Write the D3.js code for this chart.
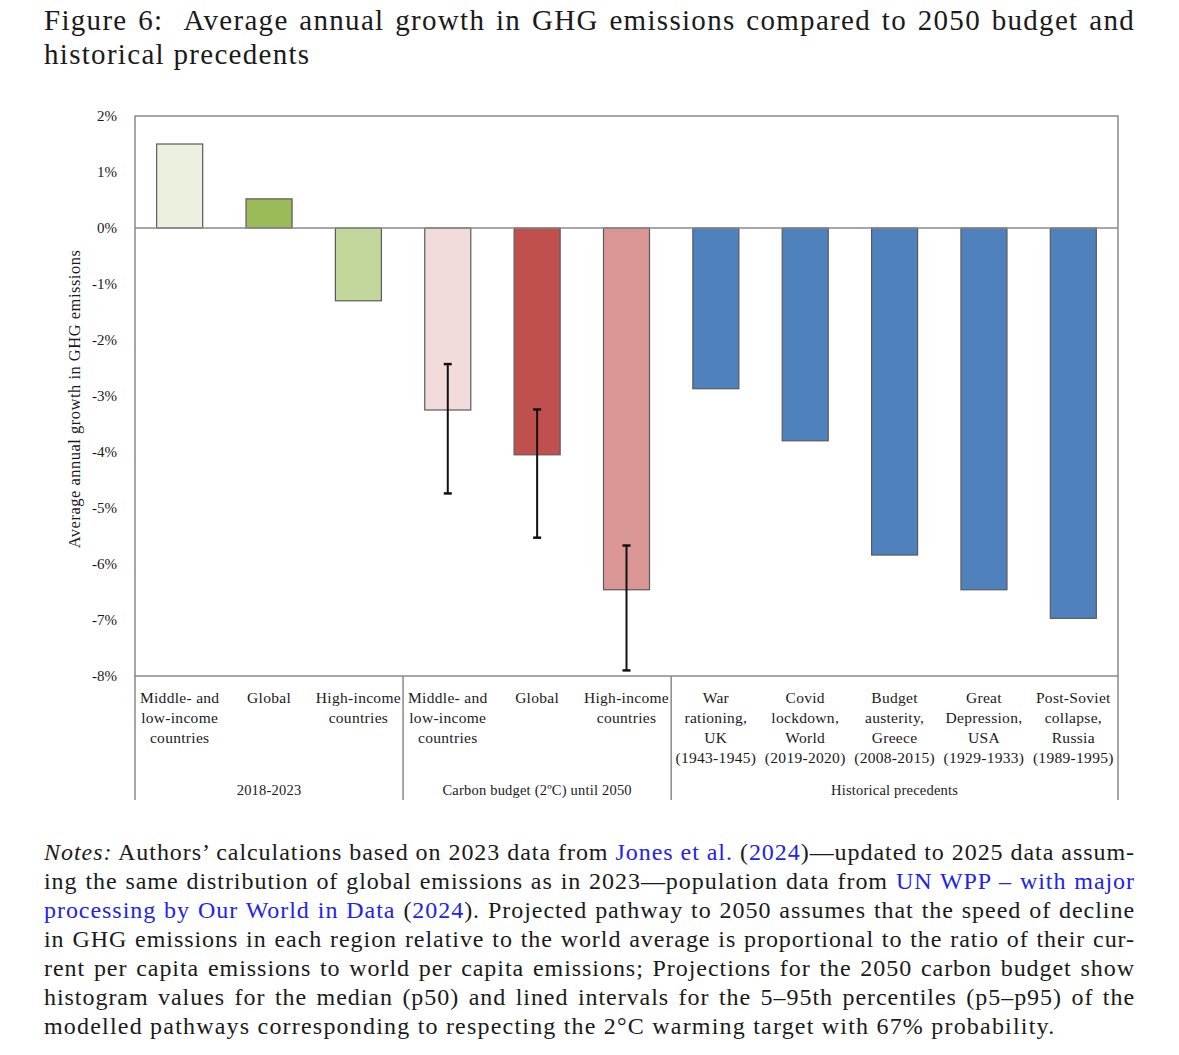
<!DOCTYPE html>
<html>
<head>
<meta charset="utf-8">
<script src="https://cdn.jsdelivr.net/npm/d3@7"></script>
<style>
  body { margin: 0; background: #fff; font-family: "Palatino Linotype", "Book Antiqua", Palatino, "Liberation Serif", serif; color: #1a1a1a; }
  #page { position: relative; width: 1179px; height: 1055px; overflow: hidden; }
  .line { position: absolute; left: 44px; width: 1091px; white-space: nowrap; text-align: justify; text-align-last: justify; }
  .line.last { text-align-last: left; }
  .title { font-size: 29px; line-height: 34px; height: 34px; letter-spacing: 1.3px; }
  .note { font-size: 24px; line-height: 29px; height: 29px; letter-spacing: 0.95px; }
  .note.last { letter-spacing: 1.2px; }
  .lnk { color: #2222ee; }
  svg { position: absolute; left: 0; top: 0; }
  svg text { font-family: "Palatino Linotype", "Book Antiqua", Palatino, "Liberation Serif", serif; fill: #1a1a1a; }
</style>
</head>
<body>
<div id="page">
  <div id="chart"></div>
</div>
<script>
// chart data
var categories = ["mli_hist", "glob_hist", "hi_hist", "mli_budget", "glob_budget", "hi_budget",
                  "war_uk", "covid", "greece", "usa", "russia"];
var labels = [
    ["Middle- and", "low-income", "countries"],
    ["Global"],
    ["High-income", "countries"],
    ["Middle- and", "low-income", "countries"],
    ["Global"],
    ["High-income", "countries"],
    ["War", "rationing,", "UK", "(1943-1945)"],
    ["Covid", "lockdown,", "World", "(2019-2020)"],
    ["Budget", "austerity,", "Greece", "(2008-2015)"],
    ["Great", "Depression,", "USA", "(1929-1933)"],
    ["Post-Soviet", "collapse,", "Russia", "(1989-1995)"]
];
var growth = [1.5, 0.52, -1.3, -3.25, -4.05, -6.46, -2.87, -3.8, -5.84, -6.46, -6.97];
var p5 = [null, null, null, -2.43, -3.24, -5.67, null, null, null, null, null];
var p95 = [null, null, null, -4.74, -5.53, -7.9, null, null, null, null, null];
var barColors = ["#ebf1de", "#9bbb59", "#c3d69b", "#f2dcdb", "#c0504d", "#d99694",
                 "#4f81bd", "#4f81bd", "#4f81bd", "#4f81bd", "#4f81bd"];
var groups = ["2018-2023", "Carbon budget (2ºC) until 2050", "Historical precedents"];
var groupSizes = [3, 3, 5];
var yTicks = [2, 1, 0, -1, -2, -3, -4, -5, -6, -7, -8];

var titleLines = [
    "Figure 6:&nbsp; Average annual growth in GHG emissions compared to 2050 budget and",
    "historical precedents"
];
var noteLines = [
    "<i>Notes:</i> Authors’ calculations based on 2023 data from <span class='lnk'>Jones et al.</span> (<span class='lnk'>2024</span>)—updated to 2025 data assum-",
    "ing the same distribution of global emissions as in 2023—population data from <span class='lnk'>UN WPP – with major</span>",
    "<span class='lnk'>processing by Our World in Data</span> (<span class='lnk'>2024</span>). Projected pathway to 2050 assumes that the speed of decline",
    "in GHG emissions in each region relative to the world average is proportional to the ratio of their cur-",
    "rent per capita emissions to world per capita emissions; Projections for the 2050 carbon budget show",
    "histogram values for the median (p50) and lined intervals for the 5–95th percentiles (p5–p95) of the",
    "modelled pathways corresponding to respecting the 2°C warming target with 67% probability."
];

var page = d3.select("#page");

page.selectAll("div.title")
    .data(titleLines)
    .enter()
    .append("div")
    .attr("class", function (d, i) { return i == titleLines.length - 1 ? "line title last" : "line title"; })
    .style("top", function (d, i) { return (3 + i * 34) + "px"; })
    .html(function (d) { return d; });

page.selectAll("div.note")
    .data(noteLines)
    .enter()
    .append("div")
    .attr("class", function (d, i) { return i == noteLines.length - 1 ? "line note last" : "line note"; })
    .style("top", function (d, i) { return (838 + i * 29) + "px"; })
    .html(function (d) { return d; });

var width = 1179;
var height = 1055;
var plotLeft = 135, plotRight = 1118, plotTop = 116, plotBottom = 676, axisBottom = 800;

var svg = d3.select("#chart")
    .append("svg")
    .attr("width", width)
    .attr("height", height);

var x = d3.scaleBand()
    .domain(categories)
    .range([plotLeft, plotRight])
    .paddingInner(0.485)
    .paddingOuter(0.2425);

var y = d3.scaleLinear()
    .domain([-8, 2])
    .range([plotBottom, plotTop]);

// y labels, no tick marks
var yAxis = svg.append("g")
    .attr("transform", "translate(" + plotLeft + ",0)")
    .call(d3.axisLeft(y).tickValues(yTicks).tickSize(0).tickPadding(18)
        .tickFormat(function (d) { return d + "%"; }));
yAxis.select(".domain").remove();
yAxis.selectAll("text")
    .style("font-size", "15px")
    .style("font-family", "'Liberation Serif', serif")
    .attr("fill", "#1a1a1a");

svg.append("text")
    .attr("transform", "translate(80," + ((plotTop + plotBottom) / 2 + 3) + ") rotate(-90)")
    .attr("text-anchor", "middle")
    .style("font-size", "16.5px")
    .style("letter-spacing", "0.5px")
    .text("Average annual growth in GHG emissions");

// bars
svg.selectAll("rect.bar")
    .data(growth)
    .enter()
    .append("rect")
    .attr("class", "bar")
    .attr("x", function (d, i) { return x(categories[i]); })
    .attr("width", x.bandwidth())
    .attr("y", function (d) { return y(Math.max(0, d)); })
    .attr("height", function (d) { return Math.abs(y(d) - y(0)); })
    .attr("fill", function (d, i) { return barColors[i]; })
    .attr("stroke", "#5a5a5a")
    .attr("stroke-width", 1.2);

// plot frame and zero line
svg.append("rect")
    .attr("x", plotLeft)
    .attr("y", plotTop)
    .attr("width", plotRight - plotLeft)
    .attr("height", plotBottom - plotTop)
    .attr("fill", "none")
    .attr("stroke", "#8a8a8a")
    .attr("stroke-width", 1.5);

svg.append("line")
    .attr("x1", plotLeft).attr("x2", plotRight)
    .attr("y1", y(0)).attr("y2", y(0))
    .attr("stroke", "#8a8a8a")
    .attr("stroke-width", 1.5);

// error bars p5-p95
var err = [];
categories.forEach(function (c, i) {
    if (p5[i] != null) err.push({ cat: c, lo: p95[i], hi: p5[i] });
});

var eb = svg.selectAll("g.err")
    .data(err)
    .enter()
    .append("g")
    .attr("class", "err");

eb.append("line")
    .attr("x1", function (d) { return x(d.cat) + x.bandwidth() / 2; })
    .attr("x2", function (d) { return x(d.cat) + x.bandwidth() / 2; })
    .attr("y1", function (d) { return y(d.hi); })
    .attr("y2", function (d) { return y(d.lo); })
    .attr("stroke", "#111")
    .attr("stroke-width", 2);

["hi", "lo"].forEach(function (k) {
    eb.append("line")
        .attr("x1", function (d) { return x(d.cat) + x.bandwidth() / 2 - 4; })
        .attr("x2", function (d) { return x(d.cat) + x.bandwidth() / 2 + 4; })
        .attr("y1", function (d) { return y(d[k]); })
        .attr("y2", function (d) { return y(d[k]); })
        .attr("stroke", "#111")
        .attr("stroke-width", 2.5);
});

// category labels
var catLabels = svg.selectAll("text.cat")
    .data(labels)
    .enter()
    .append("text")
    .attr("class", "cat")
    .attr("text-anchor", "middle")
    .style("font-size", "15.5px")
    .style("letter-spacing", "0.3px")
    .attr("x", function (d, i) { return x(categories[i]) + x.bandwidth() / 2; })
    .attr("y", plotBottom + 27);

catLabels.selectAll("tspan")
    .data(function (d) { return d; })
    .enter()
    .append("tspan")
    .attr("x", function () { return d3.select(this.parentNode).attr("x"); })
    .attr("dy", function (d, i) { return i == 0 ? 0 : 20; })
    .text(function (d) { return d; });

// group separators and labels
var step = x.step();
var bounds = [plotLeft];
var acc = 0;
groupSizes.forEach(function (n) {
    acc += n;
    bounds.push(acc == categories.length ? plotRight : plotLeft + x.paddingOuter() * step - x.paddingInner() * step / 2 + acc * step);
});

svg.selectAll("line.sep")
    .data(bounds)
    .enter()
    .append("line")
    .attr("class", "sep")
    .attr("x1", function (d) { return d; })
    .attr("x2", function (d) { return d; })
    .attr("y1", plotBottom)
    .attr("y2", axisBottom)
    .attr("stroke", "#8a8a8a")
    .attr("stroke-width", 1.5);

svg.selectAll("text.grp")
    .data(groups)
    .enter()
    .append("text")
    .attr("class", "grp")
    .attr("text-anchor", "middle")
    .style("font-size", "14.5px")
    .style("letter-spacing", "0.2px")
    .attr("x", function (d, i) { return (bounds[i] + bounds[i + 1]) / 2; })
    .attr("y", 795)
    .text(function (d) { return d; });
</script>
</body>
</html>
